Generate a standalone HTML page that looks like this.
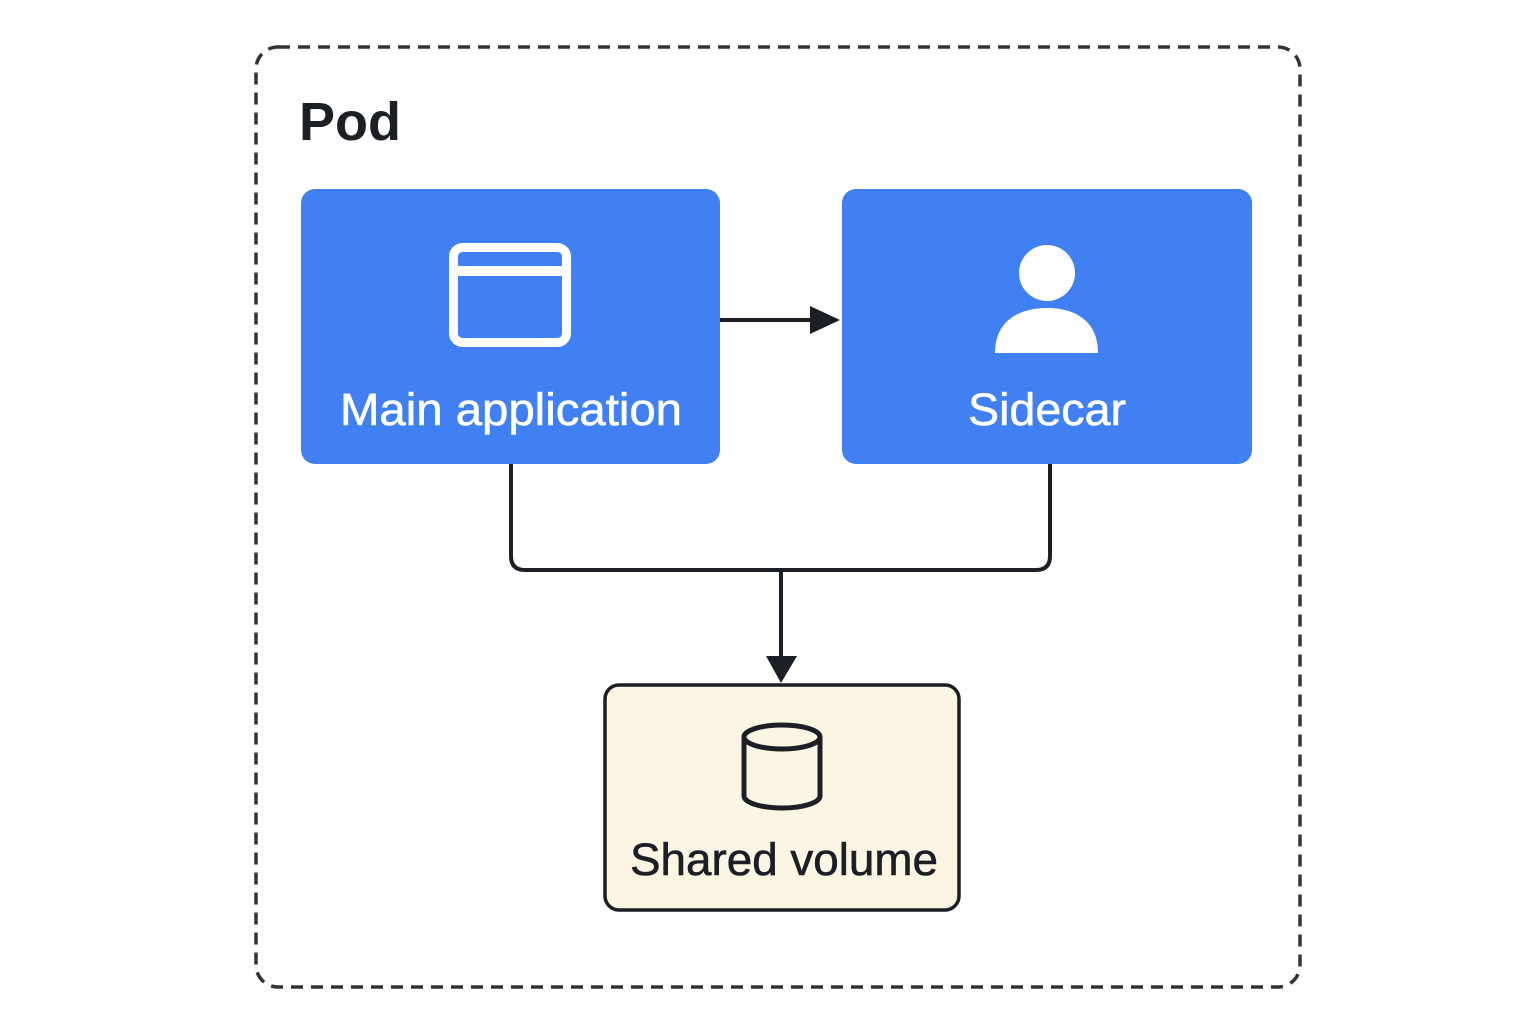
<!DOCTYPE html>
<html><head><meta charset="utf-8"><style>
html,body{margin:0;padding:0;background:#fff;}
svg{display:block;}
text{font-family:"Liberation Sans",sans-serif;}
</style></head><body>
<svg width="1536" height="1024" viewBox="0 0 1536 1024" xmlns="http://www.w3.org/2000/svg">
<rect x="256" y="47" width="1044" height="940" rx="22" fill="none" stroke="#333" stroke-width="3.5" stroke-dasharray="12 8"/>
<text x="299" y="140" font-size="54" font-weight="bold" fill="#1c1f26">Pod</text>
<rect x="301" y="189" width="419" height="275" rx="14" fill="#4080f2"/>
<rect x="842" y="189" width="410" height="275" rx="14" fill="#4080f2"/>
<rect x="453.5" y="247.5" width="113" height="95" rx="9" fill="none" stroke="#fff" stroke-width="9"/>
<rect x="453" y="266" width="114" height="10" fill="#fff"/>
<circle cx="1047" cy="273" r="28" fill="#fff"/>
<path d="M995 353 C995 320 1020 308 1047 308 C1074 308 1098 320 1098 353 Z" fill="#fff"/>
<text x="340" y="425" font-size="45" fill="#fff" stroke="#fff" stroke-width="0.6" textLength="342" lengthAdjust="spacingAndGlyphs">Main application</text>
<text x="968" y="425" font-size="45" fill="#fff" stroke="#fff" stroke-width="0.6" textLength="158" lengthAdjust="spacingAndGlyphs">Sidecar</text>
<line x1="720" y1="320" x2="814" y2="320" stroke="#1c1f26" stroke-width="4"/>
<polygon points="810,306 840,320 810,334" fill="#1c1f26"/>
<path d="M511 464 V556 Q511 570 525 570 H1036 Q1050 570 1050 556 V464" fill="none" stroke="#1c1f26" stroke-width="4"/>
<line x1="781" y1="570" x2="781" y2="660" stroke="#1c1f26" stroke-width="4"/>
<polygon points="766,656 797,656 781,683" fill="#1c1f26"/>
<rect x="605" y="685" width="354" height="225" rx="14" fill="#fdf5e3" stroke="#1c1f26" stroke-width="3.5"/>
<path d="M744 737 V796 A38 12 0 0 0 820 796 V737" fill="none" stroke="#1c1f26" stroke-width="5"/>
<ellipse cx="782" cy="737" rx="38" ry="12" fill="none" stroke="#1c1f26" stroke-width="5"/>
<text x="630" y="875" font-size="45" fill="#1c1f26" stroke="#1c1f26" stroke-width="0.6" textLength="308" lengthAdjust="spacingAndGlyphs">Shared volume</text>
</svg>
</body></html>
